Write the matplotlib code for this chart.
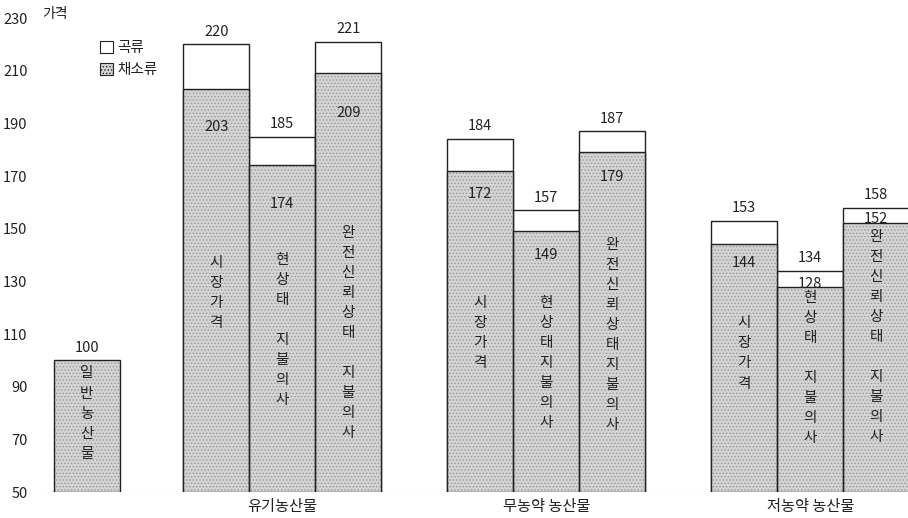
import numpy as np
import matplotlib
matplotlib.use("Agg")
import matplotlib.pyplot as plt
import matplotlib.patches as mpatches

plt.rcParams['font.family'] = ['Noto Sans CJK KR', 'DejaVu Sans']
plt.rcParams['hatch.linewidth'] = 0.6

# 데이터
base_label = '일반농산물'
base_value = 100
groups = ['유기농산물', '무농약 농산물', '저농약 농산물']
bar_names = ['시장가격', '현상태 지불의사', '완전신뢰상태 지불의사']
grain_total = [[220, 185, 221], [184, 157, 187], [153, 134, 158]]
vegetable = [[203, 174, 209], [172, 149, 179], [144, 128, 152]]

# 배치 (레이아웃)
group_start = 2.67
group_gap = 4
bar_w = 1.0
base_x = 0.71
veg_label_drop = [[14.5, 14.5, 15], [9, 9, 9.5], [7, -1, -1.5]]
text_top = [[137, 138, 148.3], [121.8, 121.8, 143.8], [114, 123.6, 146.8]]
gap_in_text = [True, False, True]
char_step = 7.6

grey = '#d4d4d4'
dot = '#999999'
ink = '#222222'

fig = plt.figure(figsize=(9.08, 5.18), dpi=100)
ax = fig.add_axes([40 / 908, 26 / 518, 868 / 908, 474 / 518])


def stipple_bar(x, top):
    ax.bar(x, top - 50, bottom=50, width=bar_w, color=grey, edgecolor=dot,
           linewidth=0, hatch='.....', zorder=2)
    ax.bar(x, top - 50, bottom=50, width=bar_w, fill=False,
           edgecolor='#222222', linewidth=1.0, zorder=3)


def vertical_text(x, y0, chars):
    for i, c in enumerate(chars):
        if c.strip():
            ax.text(x, y0 - i * char_step, c, ha='center', va='center',
                    fontsize=10.5, color=ink, zorder=4)


# 일반농산물
stipple_bar(base_x, base_value)
ax.text(base_x, base_value + 4.5, str(base_value), ha='center', va='center',
        fontsize=10.5, color=ink)
vertical_text(base_x, 95, list(base_label))

centers = []
for g in range(len(groups)):
    xs = group_start + g * group_gap + np.arange(3) * bar_w
    centers.append(xs[1])
    for j in range(3):
        ax.bar(xs[j], grain_total[g][j] - 50, bottom=50, width=bar_w,
               color='white', edgecolor='#222222', linewidth=1.0, zorder=1.5)
        stipple_bar(xs[j], vegetable[g][j])
        ax.text(xs[j], grain_total[g][j] + 4.8, str(grain_total[g][j]),
                ha='center', va='center', fontsize=10.5, color=ink)
        ax.text(xs[j], vegetable[g][j] - veg_label_drop[g][j],
                str(vegetable[g][j]), ha='center', va='center',
                fontsize=10.5, color=ink, zorder=4)
        name = bar_names[j]
        if gap_in_text[g]:
            chars = list(name)
        else:
            chars = list(name.replace(' ', ''))
        vertical_text(xs[j], text_top[g][j], chars)

ax.axhline(50, color='#888888', linewidth=0.8, linestyle=(0, (1, 2)), zorder=0)

ax.set_xlim(0, 868 / 66)
ax.set_ylim(50, 230)
ax.set_yticks(np.arange(50, 231, 20))
ax.set_xticks(centers)
ax.set_xticklabels(groups, fontsize=11, color=ink)
ax.tick_params(axis='x', length=0, pad=4)
ax.tick_params(axis='y', length=0, pad=9, labelsize=10.5, labelcolor=ink)
for s in ax.spines.values():
    s.set_visible(False)

ax.text(0.03, 231.5, '가격', ha='left', va='center', fontsize=10, color=ink)

handles = [
    mpatches.Patch(facecolor='white', edgecolor='#222222', linewidth=0.8, label='곡류'),
    mpatches.Patch(facecolor=grey, edgecolor='#222222', linewidth=0.8,
                   hatch='.....', label='채소류'),
]
ax.legend(handles=handles, loc='upper left', bbox_to_anchor=(0.061, 0.967),
          frameon=False, fontsize=10.5, handlelength=0.9, handleheight=0.9,
          handletextpad=0.3, borderpad=0, labelspacing=0.55,
          labelcolor=ink)

fig.savefig('out.png', dpi=100)
